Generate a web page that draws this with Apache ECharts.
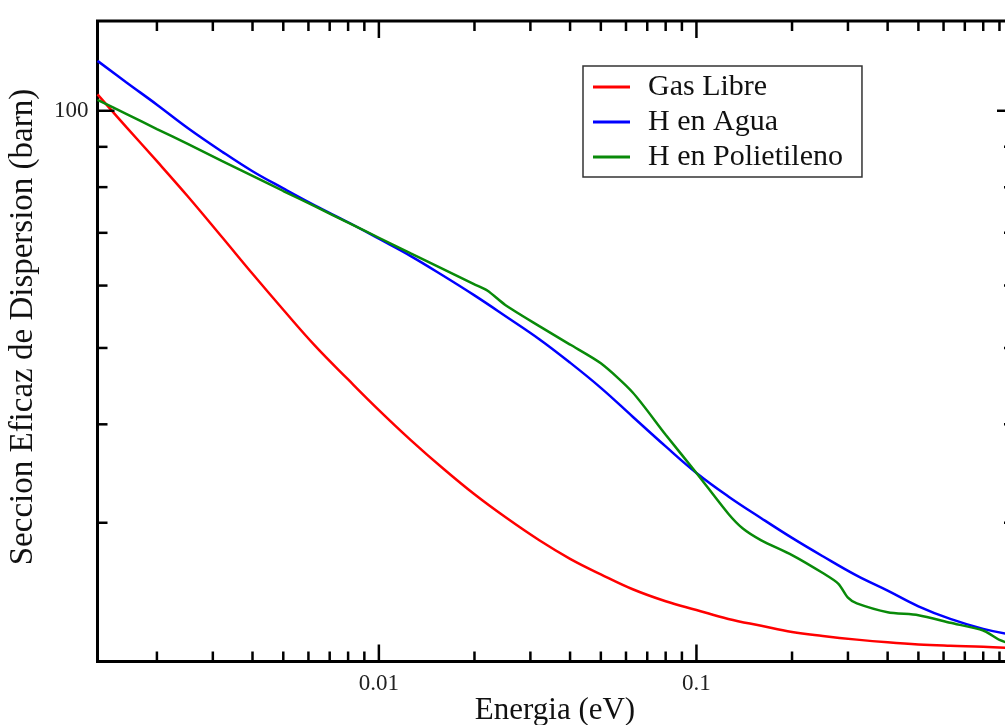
<!DOCTYPE html>
<html>
<head>
<meta charset="utf-8">
<script src="https://cdn.jsdelivr.net/npm/echarts@6/dist/echarts.min.js"></script>
<style>
html,body{margin:0;padding:0;background:#fff;}
#chart{width:1005px;height:725px;}
</style>
</head>
<body>
<div id="chart"></div>
<script>
// ---- Data ----
const energyGrid = [0.0013, 0.0016, 0.002, 0.0025, 0.0032, 0.004, 0.005, 0.0063, 0.008, 0.01, 0.0126, 0.016, 0.02, 0.025, 0.032, 0.04, 0.05, 0.063, 0.08, 0.1, 0.126, 0.16, 0.2, 0.25, 0.32, 0.4, 0.5, 0.63, 0.8, 1.0];
const sigmaGas   = [104.9, 95.4, 86.3, 77.9, 69.2, 62.1, 55.9, 50.3, 45.6, 41.7, 38.2, 35.1, 32.6, 30.5, 28.5, 27.0, 25.8, 24.7, 23.85, 23.25, 22.65, 22.2, 21.8, 21.55, 21.32, 21.15, 21.02, 20.94, 20.88, 20.79];
const sigmaWater = [115.7, 108.7, 101.8, 95.1, 88.8, 83.8, 79.7, 75.8, 72.2, 68.8, 65.4, 61.7, 58.3, 54.9, 51.3, 47.9, 44.5, 40.9, 37.5, 34.7, 32.4, 30.4, 28.7, 27.2, 25.7, 24.6, 23.5, 22.65, 22.0, 21.6];

const energyPoly = [0.0013, 0.0016, 0.002, 0.0025, 0.0032, 0.004, 0.005, 0.0063, 0.008, 0.01, 0.0126, 0.016, 0.02, 0.022, 0.025, 0.032, 0.04, 0.05, 0.063, 0.08, 0.1, 0.126, 0.14, 0.16, 0.2, 0.25, 0.28, 0.3, 0.32, 0.4, 0.5, 0.63, 0.8, 0.85, 0.9, 1.0];
const sigmaPoly  = [103.2, 99.1, 94.8, 90.8, 86.4, 82.7, 79.1, 75.6, 72.1, 69.0, 65.9, 62.9, 60.2, 59.1, 56.7, 53.3, 50.5, 47.8, 43.9, 38.8, 34.7, 30.8, 29.5, 28.5, 27.3, 25.9, 25.1, 24.1, 23.7, 23.1, 22.9, 22.4, 21.9, 21.6, 21.3, 21.0];

const seriesNames = ['Gas Libre', 'H en Agua', 'H en Polietileno'];

// ticks and tick labels
const xMajorTicks = [0.01, 0.1, 1];
const xMinorTicks = [0.002, 0.003, 0.004, 0.005, 0.006, 0.007, 0.008, 0.009,
                     0.02, 0.03, 0.04, 0.05, 0.06, 0.07, 0.08, 0.09,
                     0.2, 0.3, 0.4, 0.5, 0.6, 0.7, 0.8, 0.9];
const yMajorTicks = [100];
const yMinorTicks = [30, 40, 50, 60, 70, 80, 90];
const xLabelValues = [0.01, 0.1];
const xLabelTexts  = ['0.01', '0.1'];
const yLabelValues = [100];
const yLabelTexts  = ['100'];

const xAxisName = 'Energia (eV)';
const yAxisName = 'Seccion Eficaz de Dispersion (barn)';

// ---- build chart ----
const FONT = '"Liberation Serif", "Times New Roman", serif';
const zip = (a, b) => a.map((v, i) => [v, b[i]]);
function labelFor(v, vals, texts) {
  for (let i = 0; i < vals.length; i++) {
    if (Math.abs(Math.log10(v) - Math.log10(vals[i])) < 1e-6) return texts[i];
  }
  return '';
}
const xTickData = xMajorTicks.map(v => [v, 50, 1]).concat(xMinorTicks.map(v => [v, 50, 0]));
const yTickData = yMajorTicks.map(v => [0.01, v, 1]).concat(yMinorTicks.map(v => [0.01, v, 0]));
const MAJ = 17, MIN = 10, TW = 2.5;

const chart = echarts.init(document.getElementById('chart'), null, {renderer: 'canvas'});
chart.setOption({
  animation: false,
  backgroundColor: '#fff',
  grid: {
    left: 97.5, top: 21, right: -9, bottom: 63.5,
    show: true, borderColor: '#000', borderWidth: 3,
    containLabel: false, outerBoundsMode: 'none'
  },
  legend: {
    data: seriesNames,
    orient: 'vertical',
    left: 583, top: 66,
    padding: [6, 19, 5, 10],
    itemGap: 5,
    itemWidth: 37, itemHeight: 3,
    icon: 'rect',
    backgroundColor: '#fff',
    borderColor: '#333', borderWidth: 1.5, borderRadius: 0,
    textStyle: {fontFamily: FONT, fontSize: 30, color: '#111', lineHeight: 30, padding: [0, 0, 0, 13]}
  },
  xAxis: {
    type: 'log', logBase: 10, min: 0.0013, max: 1,
    axisLine: {show: false}, axisTick: {show: false}, splitLine: {show: false}, minorTick: {show: false},
    axisLabel: {
      fontFamily: FONT, fontSize: 23, color: '#222', margin: 11,
      showMinLabel: true, showMaxLabel: true,
      formatter: v => labelFor(v, xLabelValues, xLabelTexts)
    }
  },
  yAxis: {
    type: 'log', logBase: 10, min: 20, max: 130,
    axisLine: {show: false}, axisTick: {show: false}, splitLine: {show: false}, minorTick: {show: false},
    axisLabel: {
      fontFamily: FONT, fontSize: 23, color: '#222', margin: 9,
      formatter: v => labelFor(v, yLabelValues, yLabelTexts)
    }
  },
  graphic: [
    {type: 'text', x: 555, y: 711, silent: true,
     style: {text: xAxisName, font: '31px ' + FONT, fill: '#111', textAlign: 'center', textVerticalAlign: 'middle'}},
    {type: 'text', x: 23, y: 327, rotation: Math.PI / 2, silent: true,
     style: {text: yAxisName, font: '33px ' + FONT, fill: '#111', textAlign: 'center', textVerticalAlign: 'middle'}}
  ],
  series: [
    {name: seriesNames[0], type: 'line', data: zip(energyGrid, sigmaGas), symbol: 'none',
     smooth: 0.4, color: '#ff0000', lineStyle: {width: 2.5, color: '#ff0000'}, z: 3},
    {name: seriesNames[1], type: 'line', data: zip(energyGrid, sigmaWater), symbol: 'none',
     smooth: 0.4, color: '#0000ff', lineStyle: {width: 2.5, color: '#0000ff'}, z: 3},
    {name: seriesNames[2], type: 'line', data: zip(energyPoly, sigmaPoly), symbol: 'none',
     smooth: 0.25, color: '#098a09', lineStyle: {width: 2.5, color: '#098a09'}, z: 4},
    {name: 'xticks', type: 'custom', silent: true, z: 5, clip: false,
     data: xTickData, encode: {x: 0, y: 1},
     renderItem: function (params, api) {
       const cs = params.coordSys;
       const x = api.coord([api.value(0), api.value(1)])[0];
       const len = api.value(2) ? MAJ : MIN;
       const b = cs.y + cs.height, t = cs.y;
       const st = {stroke: '#000', lineWidth: TW};
       return {type: 'group', children: [
         {type: 'line', shape: {x1: x, y1: b, x2: x, y2: b - len}, style: st},
         {type: 'line', shape: {x1: x, y1: t, x2: x, y2: t + len}, style: st}
       ]};
     }},
    {name: 'yticks', type: 'custom', silent: true, z: 5, clip: false,
     data: yTickData, encode: {x: 0, y: 1},
     renderItem: function (params, api) {
       const cs = params.coordSys;
       const y = api.coord([api.value(0), api.value(1)])[1];
       const len = api.value(2) ? MAJ : MIN;
       const l = cs.x, r = cs.x + cs.width;
       const st = {stroke: '#000', lineWidth: TW};
       return {type: 'group', children: [
         {type: 'line', shape: {x1: l, y1: y, x2: l + len, y2: y}, style: st},
         {type: 'line', shape: {x1: r, y1: y, x2: r - len, y2: y}, style: st}
       ]};
     }}
  ]
});
</script>
</body>
</html>
